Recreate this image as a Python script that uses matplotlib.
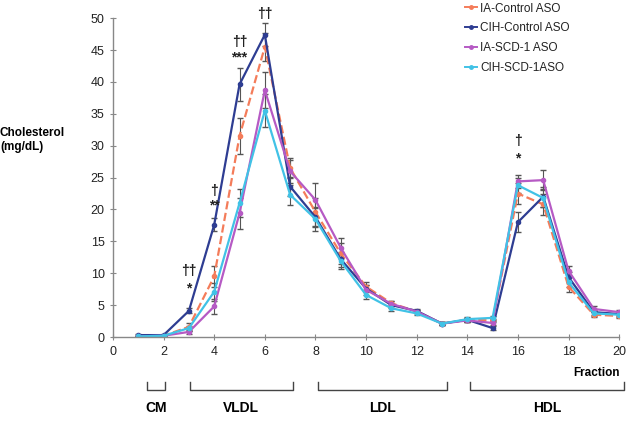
import matplotlib.pyplot as plt
import matplotlib.transforms as mtransforms
from matplotlib.lines import Line2D

plt.rcParams["font.family"] = ["Liberation Sans", "DejaVu Sans"]

FRACTIONS = list(range(1, 21))

IA_CONTROL = [0.1, 0.2, 1.6, 9.5, 31.5, 45.5, 26.5, 19.6, 13.1, 7.9, 5.3, 4.0, 2.1, 2.7, 2.6, 22.5, 20.8, 7.9, 3.5, 3.3]
CIH_CONTROL = [0.3, 0.3, 4.1, 17.6, 39.6, 47.4, 23.6, 18.8, 12.2, 7.6, 5.0, 4.1, 2.1, 2.7, 1.4, 18.0, 22.0, 9.4, 3.9, 3.6]
IA_SCD1 = [0.1, 0.2, 0.8, 4.8, 19.4, 38.7, 26.0, 21.5, 14.0, 7.4, 5.2, 4.0, 2.1, 2.6, 2.2, 24.4, 24.6, 10.4, 4.4, 3.9]
CIH_SCD1 = [0.1, 0.2, 1.4, 7.1, 21.0, 35.5, 22.3, 18.5, 11.9, 6.6, 4.5, 3.7, 2.1, 2.8, 3.0, 23.8, 21.8, 8.6, 3.7, 3.5]

IA_CONTROL_ERR = [0.1, 0.1, 0.6, 1.6, 2.8, 2.2, 1.6, 2.2, 1.6, 0.7, 0.4, 0.3, 0.2, 0.3, 0.3, 1.6, 1.6, 0.8, 0.4, 0.3]
CIH_CONTROL_ERR = [0.1, 0.1, 0.4, 1.0, 2.6, 1.8, 1.5, 1.6, 1.2, 0.6, 0.4, 0.3, 0.2, 0.3, 0.3, 1.6, 1.6, 0.8, 0.4, 0.3]
IA_SCD1_ERR = [0.1, 0.1, 0.3, 1.2, 2.4, 2.8, 1.8, 2.6, 1.6, 0.8, 0.4, 0.3, 0.2, 0.3, 0.3, 1.0, 1.6, 0.8, 0.4, 0.3]
CIH_SCD1_ERR = [0.1, 0.1, 0.4, 1.4, 2.2, 2.6, 1.6, 1.8, 1.2, 0.6, 0.4, 0.3, 0.2, 0.3, 0.3, 1.2, 1.4, 0.8, 0.4, 0.3]

SERIES = [
    ("IA-Control ASO", IA_CONTROL, IA_CONTROL_ERR, "#F47C5A", "--"),
    ("CIH-Control ASO", CIH_CONTROL, CIH_CONTROL_ERR, "#2E3D92", "-"),
    ("IA-SCD-1 ASO", IA_SCD1, IA_SCD1_ERR, "#B65AC4", "-"),
    ("CIH-SCD-1ASO", CIH_SCD1, CIH_SCD1_ERR, "#41C2E6", "-"),
]

# significance marks: (fraction, y, text)
MARKS = [
    (3, 10.4, "††"), (3, 7.6, "*"),
    (4, 22.9, "†"), (4, 20.6, "**"),
    (5, 46.2, "††"), (5, 43.8, "***"),
    (6, 50.6, "††"),
    (16, 30.8, "†"), (16, 28.0, "*"),
]

# lipoprotein class brackets: (label, start, end)
CLASSES = [("CM", 1.35, 2.07), ("VLDL", 3.04, 7.1), ("LDL", 8.1, 13.2), ("HDL", 14.1, 20.2)]


fig = plt.figure(figsize=(6.26, 4.22), dpi=100)
ax = fig.add_axes([0.1805, 0.2014, 0.8085, 0.7556])

handles = []
for label, values, errors, color, style in SERIES:
    ax.errorbar(FRACTIONS, values, yerr=errors, color=color, linestyle=style, linewidth=1.6,
                marker="o", markersize=3, ecolor="#555555", elinewidth=0.8, capsize=2)
    handles.append(Line2D([], [], color=color, linewidth=1.4, marker="o", markersize=2.5, label=label))

for x, y, text in MARKS:
    ax.text(x, y, text, ha="center", va="center", fontsize=10, fontweight="bold", color="#222222")

ax.set_xlim(0, 20)
ax.set_ylim(0, 50)
ax.set_xticks(range(0, 21, 2))
ax.set_yticks(range(0, 51, 5))
ax.tick_params(axis="both", direction="inout", length=5, width=0.8, color="#888888",
               labelsize=9, labelcolor="#222222")
ax.tick_params(axis="x", pad=4)
for side in ["top", "right"]:
    ax.spines[side].set_visible(False)
for side in ["left", "bottom"]:
    ax.spines[side].set_color("#888888")
    ax.spines[side].set_linewidth(1.0)

fig.text(0.0, 0.668, "Cholesterol\n(mg/dL)", ha="left", va="center", fontsize=8.5,
         fontweight="bold", linespacing=1.3)
fig.text(0.99, 0.116, "Fraction", ha="right", va="center", fontsize=8.5, fontweight="bold")

trans = mtransforms.blended_transform_factory(ax.transData, fig.transFigure)
for label, start, end in CLASSES:
    ax.plot([start, start, end, end], [0.095, 0.077, 0.077, 0.095], transform=trans,
            color="#444444", linewidth=1.0, clip_on=False)
    ax.text((start + end) / 2, 0.033, label, transform=trans, ha="center", va="center",
            fontsize=10, fontweight="bold")

fig.legend(handles=handles, loc="upper left", bbox_to_anchor=(0.735, 1.005), frameon=False,
           fontsize=8.5, handlelength=1.0, handletextpad=0.3, labelspacing=0.65, borderaxespad=0,
           labelcolor="#222222")

fig.savefig("out.png", dpi=100)
